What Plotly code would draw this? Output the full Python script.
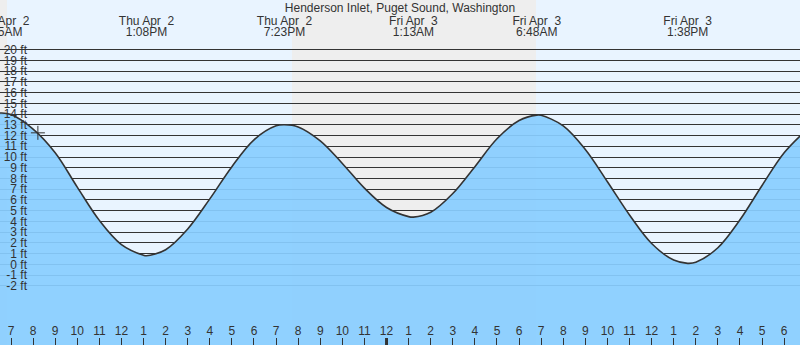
import pandas as pd
import plotly.graph_objects as go

STATION = "Henderson Inlet, Puget Sound, Washington"

# Predicted water level (ft), hourly plus each turning point
times = [
    "2026-04-02 06:00", "2026-04-02 06:35", "2026-04-02 07:00", "2026-04-02 08:00",
    "2026-04-02 09:00", "2026-04-02 10:00", "2026-04-02 11:00", "2026-04-02 12:00",
    "2026-04-02 13:00", "2026-04-02 13:08", "2026-04-02 14:00", "2026-04-02 15:00",
    "2026-04-02 16:00", "2026-04-02 17:00", "2026-04-02 18:00", "2026-04-02 19:00",
    "2026-04-02 19:23", "2026-04-02 20:00", "2026-04-02 21:00", "2026-04-02 22:00",
    "2026-04-02 23:00", "2026-04-03 00:00", "2026-04-03 01:00", "2026-04-03 01:13",
    "2026-04-03 02:00", "2026-04-03 03:00", "2026-04-03 04:00", "2026-04-03 05:00",
    "2026-04-03 06:00", "2026-04-03 06:48", "2026-04-03 07:00", "2026-04-03 08:00",
    "2026-04-03 09:00", "2026-04-03 10:00", "2026-04-03 11:00", "2026-04-03 12:00",
    "2026-04-03 13:00", "2026-04-03 13:38", "2026-04-03 14:00", "2026-04-03 15:00",
    "2026-04-03 16:00", "2026-04-03 17:00", "2026-04-03 18:00", "2026-04-03 19:00",
]
heights = [
    13.9, 14.1, 13.95, 12.6,
    10.4, 7.2, 4.1, 1.85,
    0.85, 0.8, 1.37, 3.3,
    6.1, 9.1, 11.6, 12.9,
    13.0, 12.8, 11.5, 9.4,
    7.1, 5.3, 4.45, 4.4,
    4.85, 6.6, 9.1, 11.7,
    13.4, 13.9, 13.88, 12.9,
    10.7, 7.7, 4.6, 1.95,
    0.4, 0.1, 0.2, 1.55,
    4.15, 7.35, 10.4, 12.5,
]

# High and low water events labelled along the top
event_times = [
    "2026-04-02 06:35", "2026-04-02 13:08", "2026-04-02 19:23",
    "2026-04-03 01:13", "2026-04-03 06:48", "2026-04-03 13:38",
]

# Darkness (sunset -> sunrise)
night_start = ["2026-04-01 19:41", "2026-04-02 19:43"]
night_end = ["2026-04-02 06:49", "2026-04-03 06:46"]

# Current time marker
now_time = "2026-04-02 08:13"
now_height = 12.25

levels = list(range(-2, 21))
level_labels = [f"{v} ft" for v in levels]

# ---- layout geometry -------------------------------------------------------
W, H = 800, 345
PX_PER_FT = 10.74          # vertical scale
TOP_LEVEL_PX = 49.6        # pixel row of the highest level line
PX_PER_HOUR = 22.09        # horizontal scale
GUTTER_PX = 29             # room kept for the level labels on the left
LABEL_EDGE_PX = 27         # right edge of the level labels
X_START = pd.Timestamp("2026-04-02 06:30:07")

FONT = "Liberation Sans, Arial, sans-serif"
TEXT = "#333333"
DAY = "#E9F4FF"
NIGHT = "#EEEEEE"
LINE = "#333333"
WATER = "rgba(137,206,255,0.93)"

top = max(levels)
y_hi = top + TOP_LEVEL_PX / PX_PER_FT
y_lo = top - (H - TOP_LEVEL_PX) / PX_PER_FT
x_end = X_START + pd.Timedelta(hours=W / PX_PER_HOUR)
gutter_end = X_START + pd.Timedelta(hours=GUTTER_PX / PX_PER_HOUR)

ev = pd.to_datetime(event_times)
date_text = [f"{t:%a %b} {t.day:2d}".replace("  ", " \u00a0") for t in ev]
time_text = [f"{t.hour % 12 or 12}:{t:%M%p}" for t in ev]

fig = go.Figure()

# floor of the water body
fig.add_trace(go.Scatter(
    x=[times[0], times[-1]], y=[y_lo, y_lo], mode="lines",
    line=dict(width=0), hoverinfo="skip", showlegend=False,
))
# tide curve, filled down to the floor
fig.add_trace(go.Scatter(
    x=times, y=heights, mode="lines",
    line=dict(color=LINE, width=1.6, shape="spline"),
    fill="tonexty", fillcolor=WATER,
    hoverinfo="skip", showlegend=False,
))
# now marker
fig.add_trace(go.Scatter(
    x=[now_time], y=[now_height], mode="markers",
    marker=dict(symbol="cross-thin", size=10, line=dict(color=LINE, width=1)),
    hoverinfo="skip", showlegend=False,
))
# event labels (two rows)
for row, txt in ((1 - 21.5 / H, date_text), (1 - 33 / H, time_text)):
    fig.add_trace(go.Scatter(
        x=ev, y=[row] * len(ev), yaxis="y2", mode="text", text=txt,
        textposition="middle center", cliponaxis=True,
        textfont=dict(family=FONT, size=12, color=TEXT),
        hoverinfo="skip", showlegend=False,
    ))

shapes = []
for s, e in zip(night_start, night_end):
    shapes.append(dict(type="rect", xref="x", yref="paper", x0=s, x1=e, y0=0, y1=1,
                       fillcolor=NIGHT, line=dict(width=0), layer="below"))
# keep the level lines clear of the label gutter
shapes.append(dict(type="rect", xref="x", yref="paper",
                   x0=X_START - pd.Timedelta(hours=1), x1=gutter_end, y0=0, y1=1,
                   fillcolor=DAY, line=dict(width=0), layer="between"))
for s, e in zip(pd.to_datetime(night_start), pd.to_datetime(night_end)):
    lo, hi = max(s, X_START - pd.Timedelta(hours=1)), min(e, gutter_end)
    if lo < hi:
        shapes.append(dict(type="rect", xref="x", yref="paper", x0=lo, x1=hi, y0=0, y1=1,
                           fillcolor=NIGHT, line=dict(width=0), layer="between"))
# heavier tick at midnight
midnight = ev[0].normalize() + pd.Timedelta(days=1)
shapes.append(dict(type="rect", xref="x", yref="paper", xsizemode="pixel", ysizemode="pixel",
                   xanchor=midnight, yanchor=0, x0=-1.5, x1=1.5, y0=0, y1=7,
                   fillcolor=LINE, line=dict(width=0), layer="above"))

fig.update_layout(
    width=W, height=H, margin=dict(l=0, r=0, t=0, b=0),
    paper_bgcolor=DAY, plot_bgcolor=DAY,
    font=dict(family=FONT, size=12, color=TEXT),
    title=dict(text=STATION, x=0.5, xanchor="center", y=1 - 8 / H, yanchor="middle",
               font=dict(family=FONT, size=12, color=TEXT)),
    showlegend=False, hovermode=False,
    shapes=shapes,
    xaxis=dict(
        type="date", range=[X_START, x_end], tickformat="%-I",
        dtick=3600000, tick0="2026-04-02 00:00",
        ticks="inside", ticklen=7, tickwidth=1, tickcolor=LINE,
        ticklabelposition="inside", showgrid=False, zeroline=False, showline=False,
        tickfont=dict(family=FONT, size=12, color=TEXT),
    ),
    yaxis=dict(
        range=[y_lo, y_hi], tickvals=levels, ticktext=level_labels,
        showgrid=True, gridcolor=LINE, gridwidth=1,
        anchor="free", position=LABEL_EDGE_PX / W, side="left",
        ticks="", showline=False, zeroline=False,
        tickfont=dict(family=FONT, size=12, color=TEXT),
    ),
    yaxis2=dict(overlaying="y", range=[0, 1], visible=False),
)

fig.write_html("out.html", config={"displayModeBar": False})
